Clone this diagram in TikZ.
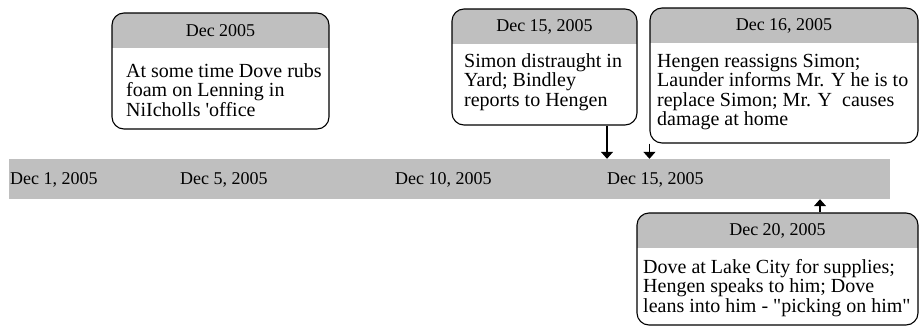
\documentclass[tikz,border=0pt]{standalone}
\usepackage{fontspec}
\setmainfont{Liberation Serif}
\usetikzlibrary{positioning,calc,arrows.meta}

\definecolor{bandgray}{RGB}{191,191,191}

\tikzset{
  band/.style={fill=bandgray, inner sep=0pt},
  daylabel/.style={anchor=west, inner sep=0pt, font=\fontsize{18}{19}\selectfont},
  evbox/.style={draw, line width=1.1pt, rounded corners=12pt, inner sep=0pt,
    path picture={\fill[bandgray, sharp corners] (path picture bounding box.north west)
      rectangle ([yshift=-35pt]path picture bounding box.north east);}},
  evdate/.style={inner sep=0pt, font=\fontsize{18}{19}\selectfont},
  evtext/.style={anchor=west, align=left, inner sep=0pt,
    font=\fontsize{20}{19.5}\selectfont},
  tick/.style={-{Triangle[length=7pt,width=12pt]}, line width=1.3pt}
}

\begin{document}
\begin{tikzpicture}[x=1pt,y=-1pt]
\useasboundingbox (0,0) rectangle (919,327);

% time line
\node[band, minimum width=881pt, minimum height=40pt] (bar) at (449.5,179) {};
\node[daylabel] (d1) at (10,180) {Dec 1, 2005};
\node[daylabel] (d5) at (180,180) {Dec 5, 2005};
\node[daylabel] (d10) at (395,180) {Dec 10, 2005};
\node[daylabel] (d15) at (607,180) {Dec 15, 2005};

% events above
\node[evbox, minimum width=217pt, minimum height=116pt] (ev1) at (220.5,71) {};
\node[evdate] (ev1d) at (220.5,30.5) {Dec 2005};
\node[evtext] (ev1t) at (126,90) {At some time Dove rubs\\foam on Lenning in\\NiIcholls \textquotesingle office};

\node[evbox, minimum width=185pt, minimum height=116pt] (ev2) at (544.5,67) {};
\node[evdate] (ev2d) at (544.5,27) {Dec 15, 2005};
\node[evtext] (ev2t) at (464,82) {Simon distraught in\\Yard; Bindley\\reports to Hengen};

\node[evbox, minimum width=268pt, minimum height=135pt] (ev3) at (784,75.5) {};
\node[evdate] (ev3d) at (784,25.5) {Dec 16, 2005};
\node[evtext] (ev3t) at (657,92) {Hengen reassigns Simon;\\Launder informs Mr. Y he is to\\replace Simon; Mr. Y\ \ causes\\damage at home};

% event below
\node[evbox, minimum width=281pt, minimum height=112pt] (ev4) at (777.5,269) {};
\node[evdate] (ev4d) at (777.5,231) {Dec 20, 2005};
\node[evtext] (ev4t) at (643,288) {Dove at Lake City for supplies;\\Hengen speaks to him; Dove\\leans into him - \textquotedbl picking on him\textquotedbl};

% arrows
\draw[tick] (ev2.south -| d15.west) -- (bar.north -| d15.west);
\draw[tick] (ev3.south west) -- (bar.north -| ev3.west);
\coordinate (c20) at (820,0);
\draw[tick] (ev4.north -| c20) -- (bar.south -| c20);

\end{tikzpicture}
\end{document}
